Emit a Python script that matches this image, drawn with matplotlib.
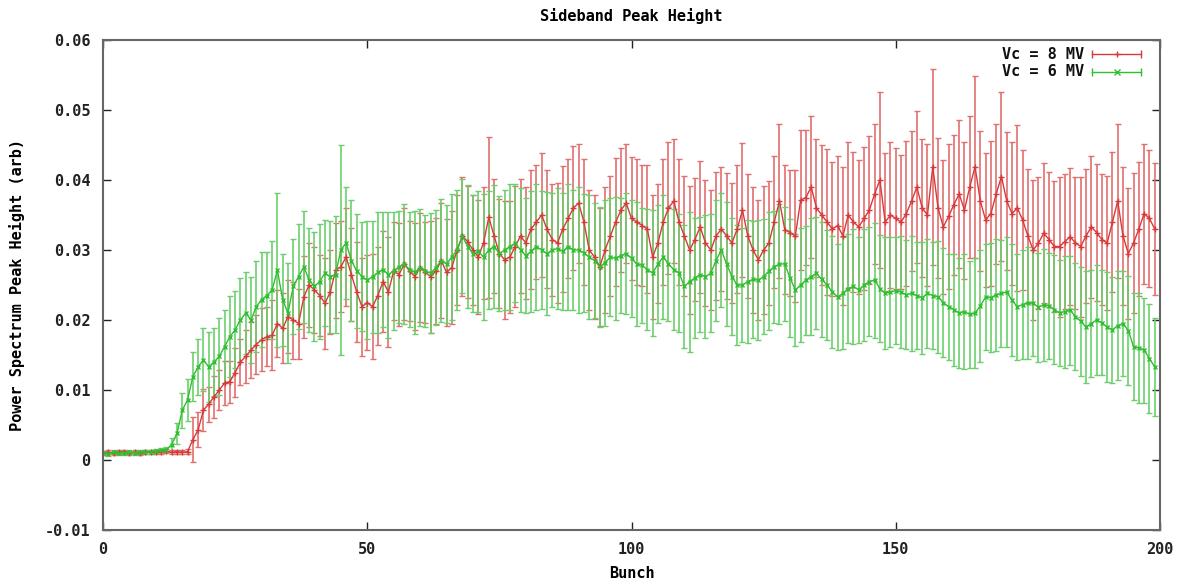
import numpy as np
import matplotlib
matplotlib.use("Agg")
import matplotlib.pyplot as plt

bunch = list(range(200))

red_vals = [
    0.0010, 0.0011, 0.0010, 0.0011, 0.0012, 0.0010, 0.0011, 0.0010, 0.0011, 0.0012,
    0.0011, 0.0012, 0.0013, 0.0011, 0.0012, 0.0011, 0.0012, 0.0029, 0.0043, 0.0071,
    0.0080, 0.0090, 0.0100, 0.0110, 0.0112, 0.0125, 0.0140, 0.0148, 0.0157, 0.0165,
    0.0172, 0.0176, 0.0178, 0.0195, 0.0188, 0.0205, 0.0200, 0.0195, 0.0233, 0.0250,
    0.0243, 0.0235, 0.0224, 0.0240, 0.0271, 0.0276, 0.0290, 0.0265, 0.0240, 0.0219,
    0.0225, 0.0219, 0.0235, 0.0255, 0.0240, 0.0270, 0.0265, 0.0280, 0.0270, 0.0262,
    0.0275, 0.0268, 0.0262, 0.0270, 0.0285, 0.0268, 0.0275, 0.0300, 0.0320, 0.0312,
    0.0300, 0.0290, 0.0310, 0.0347, 0.0320, 0.0295, 0.0286, 0.0290, 0.0305, 0.0320,
    0.0310, 0.0330, 0.0340, 0.0350, 0.0330, 0.0315, 0.0310, 0.0330, 0.0345, 0.0360,
    0.0367, 0.0340, 0.0300, 0.0290, 0.0276, 0.0300, 0.0320, 0.0340, 0.0357, 0.0367,
    0.0345, 0.0340, 0.0335, 0.0330, 0.0290, 0.0310, 0.0340, 0.0360, 0.0370, 0.0340,
    0.0320, 0.0300, 0.0315, 0.0333, 0.0310, 0.0300, 0.0320, 0.0330, 0.0320, 0.0310,
    0.0330, 0.0357, 0.0320, 0.0300, 0.0286, 0.0300, 0.0310, 0.0340, 0.0370, 0.0329,
    0.0325, 0.0320, 0.0371, 0.0375, 0.0390, 0.0360, 0.0350, 0.0340, 0.0330, 0.0335,
    0.0320, 0.0350, 0.0340, 0.0333, 0.0345, 0.0357, 0.0380, 0.0400, 0.0340, 0.0350,
    0.0345, 0.0340, 0.0352, 0.0370, 0.0390, 0.0360, 0.0350, 0.0419, 0.0360, 0.0333,
    0.0348, 0.0365, 0.0380, 0.0357, 0.0390, 0.0419, 0.0370, 0.0343, 0.0352, 0.0380,
    0.0405, 0.0370, 0.0352, 0.0360, 0.0343, 0.0320, 0.0300, 0.0310, 0.0324, 0.0315,
    0.0305, 0.0305, 0.0312, 0.0319, 0.0310, 0.0305, 0.0320, 0.0333, 0.0325, 0.0315,
    0.0310, 0.0340, 0.0370, 0.0320, 0.0295, 0.0310, 0.0330, 0.0352, 0.0345, 0.0330,
]

red_err = [
    0.0003, 0.0003, 0.0003, 0.0003, 0.0003, 0.0003, 0.0003, 0.0003, 0.0003, 0.0003,
    0.0003, 0.0003, 0.0003, 0.0003, 0.0003, 0.0003, 0.0004, 0.0032, 0.0025, 0.0030,
    0.0025, 0.0030, 0.0028, 0.0032, 0.0030, 0.0035, 0.0033, 0.0038, 0.0040, 0.0042,
    0.0045, 0.0042, 0.0050, 0.0048, 0.0050, 0.0052, 0.0055, 0.0050, 0.0058, 0.0060,
    0.0062, 0.0058, 0.0065, 0.0060, 0.0068, 0.0065, 0.0070, 0.0066, 0.0072, 0.0070,
    0.0068, 0.0075, 0.0070, 0.0072, 0.0078, 0.0070, 0.0074, 0.0080, 0.0072, 0.0076,
    0.0078, 0.0072, 0.0080, 0.0075, 0.0082, 0.0076, 0.0080, 0.0078, 0.0085, 0.0080,
    0.0078, 0.0082, 0.0080, 0.0115, 0.0082, 0.0078, 0.0084, 0.0080, 0.0086, 0.0082,
    0.0080, 0.0085, 0.0082, 0.0088, 0.0084, 0.0080, 0.0086, 0.0090, 0.0085, 0.0088,
    0.0085, 0.0090, 0.0086, 0.0088, 0.0084, 0.0090, 0.0086, 0.0092, 0.0088, 0.0085,
    0.0088, 0.0090, 0.0086, 0.0092, 0.0088, 0.0085, 0.0090, 0.0094, 0.0088, 0.0090,
    0.0086, 0.0092, 0.0088, 0.0094, 0.0090, 0.0086, 0.0092, 0.0088, 0.0090, 0.0086,
    0.0092, 0.0096, 0.0088, 0.0090, 0.0086, 0.0092, 0.0088, 0.0094, 0.0110, 0.0092,
    0.0090, 0.0094, 0.0100, 0.0096, 0.0102, 0.0098, 0.0100, 0.0104, 0.0096, 0.0100,
    0.0098, 0.0104, 0.0100, 0.0096, 0.0102, 0.0106, 0.0100, 0.0125, 0.0098, 0.0104,
    0.0100, 0.0096, 0.0104, 0.0100, 0.0108, 0.0098, 0.0102, 0.0140, 0.0100, 0.0096,
    0.0104, 0.0100, 0.0106, 0.0098, 0.0102, 0.0130, 0.0100, 0.0096, 0.0104, 0.0100,
    0.0120, 0.0098, 0.0102, 0.0118, 0.0100, 0.0096, 0.0100, 0.0094, 0.0100, 0.0096,
    0.0094, 0.0100, 0.0096, 0.0098, 0.0094, 0.0100, 0.0096, 0.0102, 0.0098, 0.0094,
    0.0096, 0.0100, 0.0110, 0.0098, 0.0094, 0.0100, 0.0096, 0.0100, 0.0098, 0.0094,
]

green_vals = [
    0.0010, 0.0009, 0.0011, 0.0010, 0.0010, 0.0011, 0.0010, 0.0012, 0.0011, 0.0012,
    0.0013, 0.0014, 0.0015, 0.0022, 0.0038, 0.0071, 0.0086, 0.0119, 0.0133, 0.0143,
    0.0133, 0.0140, 0.0148, 0.0162, 0.0176, 0.0186, 0.0200, 0.0210, 0.0200, 0.0219,
    0.0229, 0.0235, 0.0243, 0.0271, 0.0229, 0.0210, 0.0248, 0.0262, 0.0276, 0.0257,
    0.0248, 0.0255, 0.0267, 0.0262, 0.0265, 0.0300, 0.0310, 0.0285, 0.0270, 0.0262,
    0.0257, 0.0262, 0.0268, 0.0272, 0.0265, 0.0270, 0.0276, 0.0280, 0.0272, 0.0268,
    0.0275, 0.0270, 0.0267, 0.0275, 0.0285, 0.0280, 0.0290, 0.0300, 0.0320, 0.0305,
    0.0295, 0.0298, 0.0290, 0.0300, 0.0305, 0.0295, 0.0300, 0.0305, 0.0310, 0.0300,
    0.0292, 0.0298, 0.0305, 0.0300, 0.0295, 0.0300, 0.0302, 0.0298, 0.0305, 0.0300,
    0.0300, 0.0296, 0.0290, 0.0285, 0.0276, 0.0282, 0.0290, 0.0288, 0.0292, 0.0295,
    0.0288, 0.0280, 0.0278, 0.0272, 0.0267, 0.0280, 0.0290, 0.0280, 0.0272, 0.0267,
    0.0248, 0.0255, 0.0260, 0.0265, 0.0262, 0.0267, 0.0285, 0.0300, 0.0280, 0.0262,
    0.0250, 0.0250, 0.0255, 0.0258, 0.0257, 0.0262, 0.0270, 0.0276, 0.0280, 0.0280,
    0.0260, 0.0243, 0.0250, 0.0257, 0.0262, 0.0267, 0.0258, 0.0250, 0.0240, 0.0233,
    0.0238, 0.0245, 0.0248, 0.0243, 0.0250, 0.0255, 0.0257, 0.0245, 0.0238, 0.0240,
    0.0242, 0.0240, 0.0236, 0.0238, 0.0235, 0.0232, 0.0238, 0.0235, 0.0233, 0.0225,
    0.0219, 0.0215, 0.0210, 0.0212, 0.0208, 0.0210, 0.0220, 0.0233, 0.0232, 0.0236,
    0.0238, 0.0240, 0.0228, 0.0219, 0.0222, 0.0225, 0.0224, 0.0218, 0.0222, 0.0220,
    0.0215, 0.0210, 0.0212, 0.0214, 0.0205, 0.0198, 0.0190, 0.0195, 0.0200, 0.0196,
    0.0190, 0.0186, 0.0192, 0.0195, 0.0185, 0.0162, 0.0160, 0.0157, 0.0145, 0.0133,
]

green_err = [
    0.0003, 0.0003, 0.0003, 0.0003, 0.0003, 0.0003, 0.0003, 0.0003, 0.0003, 0.0003,
    0.0003, 0.0003, 0.0004, 0.0010, 0.0015, 0.0025, 0.0030, 0.0035, 0.0040, 0.0045,
    0.0050, 0.0048, 0.0055, 0.0052, 0.0058, 0.0055, 0.0060, 0.0058, 0.0062, 0.0065,
    0.0068, 0.0062, 0.0070, 0.0110, 0.0066, 0.0072, 0.0068, 0.0075, 0.0080, 0.0074,
    0.0078, 0.0082, 0.0076, 0.0080, 0.0084, 0.0150, 0.0080, 0.0086, 0.0082, 0.0078,
    0.0084, 0.0080, 0.0086, 0.0082, 0.0090, 0.0084, 0.0080, 0.0086, 0.0082, 0.0088,
    0.0084, 0.0080, 0.0086, 0.0082, 0.0088, 0.0084, 0.0090, 0.0086, 0.0082, 0.0088,
    0.0084, 0.0086, 0.0090, 0.0084, 0.0088, 0.0082, 0.0086, 0.0090, 0.0084, 0.0088,
    0.0082, 0.0086, 0.0090, 0.0084, 0.0088, 0.0082, 0.0086, 0.0084, 0.0090, 0.0086,
    0.0090, 0.0084, 0.0088, 0.0082, 0.0086, 0.0090, 0.0084, 0.0088, 0.0082, 0.0086,
    0.0084, 0.0088, 0.0082, 0.0086, 0.0090, 0.0084, 0.0088, 0.0082, 0.0086, 0.0084,
    0.0088, 0.0100, 0.0086, 0.0082, 0.0088, 0.0084, 0.0086, 0.0082, 0.0088, 0.0084,
    0.0086, 0.0082, 0.0088, 0.0084, 0.0086, 0.0082, 0.0084, 0.0080, 0.0086, 0.0082,
    0.0084, 0.0080, 0.0082, 0.0078, 0.0084, 0.0080, 0.0082, 0.0078, 0.0080, 0.0076,
    0.0080, 0.0078, 0.0082, 0.0076, 0.0080, 0.0078, 0.0082, 0.0076, 0.0080, 0.0078,
    0.0076, 0.0080, 0.0078, 0.0082, 0.0076, 0.0080, 0.0078, 0.0076, 0.0080, 0.0078,
    0.0076, 0.0080, 0.0078, 0.0082, 0.0076, 0.0078, 0.0080, 0.0076, 0.0078, 0.0080,
    0.0076, 0.0078, 0.0080, 0.0076, 0.0078, 0.0080, 0.0076, 0.0078, 0.0080, 0.0076,
    0.0078, 0.0076, 0.0080, 0.0078, 0.0076, 0.0078, 0.0080, 0.0076, 0.0078, 0.0075,
    0.0078, 0.0076, 0.0078, 0.0075, 0.0078, 0.0076, 0.0078, 0.0075, 0.0078, 0.0070,
]

series_labels = ["Vc = 8 MV", "Vc = 6 MV"]
x_ticks = [0, 50, 100, 150, 200]
y_ticks = [-0.01, 0, 0.01, 0.02, 0.03, 0.04, 0.05, 0.06]
y_tick_labels = ["-0.01", "0", "0.01", "0.02", "0.03", "0.04", "0.05", "0.06"]

plt.rcParams['font.family'] = ['DejaVu Sans Mono']
plt.rcParams['font.weight'] = 'bold'

fig = plt.figure(figsize=(11.82, 5.84), dpi=100)
ax = fig.add_axes([103/1182, 1 - 530/584, (1160 - 103)/1182, (530 - 40)/584])

red = '#d83a3a'
green = '#2fbf2f'
red_e = '#e07070'
green_e = '#6ccf6c'

ax.errorbar(bunch, red_vals, yerr=red_err, color=red, ecolor=red_e,
            elinewidth=1.2, capsize=2.5, capthick=1.0, lw=1.0,
            marker='+', ms=4, mew=1.0)
ax.errorbar(bunch, green_vals, yerr=green_err, color=green, ecolor=green_e,
            elinewidth=1.2, capsize=2.5, capthick=1.0, lw=1.0,
            marker='x', ms=3.5, mew=1.0)

ax.set_xlim(0, 200)
ax.set_ylim(-0.01, 0.06)
ax.set_xticks(x_ticks)
ax.set_yticks(y_ticks)
ax.set_yticklabels(y_tick_labels)
ax.tick_params(direction='in', length=6, width=1, top=True, right=True,
               labelsize=11, colors='#222222', pad=9)
for s in ax.spines.values():
    s.set_color('#666666')
    s.set_linewidth(1.5)

ax.set_title('Sideband Peak Height', fontsize=11, fontweight='bold', pad=14)
ax.set_xlabel('Bunch', fontsize=11, fontweight='bold', labelpad=6)
ax.set_ylabel('Power Spectrum Peak Height (arb)', fontsize=11, fontweight='bold', labelpad=14)

# gnuplot-style key: right-aligned text, sample line with end caps and centre marker
key_specs = [(series_labels[0], red, '+', 0.971), (series_labels[1], green, 'x', 0.935)]
x0, x1 = (1092 - 103) / 1057, (1141 - 103) / 1057
for lab, col, mk, yk in key_specs:
    ax.text((1084 - 103) / 1057, yk, lab, transform=ax.transAxes, ha='right', va='center',
            fontsize=11, fontweight='bold', color='#111111')
    ax.plot([x0, x1], [yk, yk], transform=ax.transAxes, color=col, lw=1.0, clip_on=False)
    ax.plot([x0, x1], [yk, yk], transform=ax.transAxes, color=col, lw=0, marker='|',
            ms=6, mew=1.0, clip_on=False)
    ax.plot([(x0 + x1) / 2], [yk], transform=ax.transAxes, color=col, lw=0, marker=mk,
            ms=5, mew=1.0, clip_on=False)

fig.savefig('out.png', dpi=100)
